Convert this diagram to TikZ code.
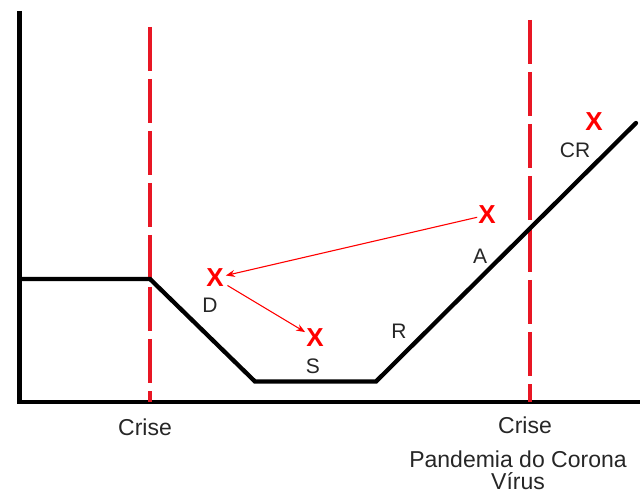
\documentclass[tikz,border=0pt]{standalone}
\usepackage{fontspec}
\setmainfont{Liberation Sans}
\usetikzlibrary{arrows.meta}
\definecolor{dashred}{RGB}{232,22,36}
\definecolor{xred}{RGB}{255,0,0}
\tikzset{
  axisline/.style={line width=4.5pt},
  curveline/.style={line width=4.3pt, line cap=round},
  crisisline/.style={dashred, line width=4.5pt, dash pattern=on 44pt off 8pt},
  xmark/.style={text=xred, font=\fontsize{26}{28}\selectfont\bfseries, inner sep=1pt},
  lbl/.style={font=\fontsize{21}{23}\selectfont, text=black!85, inner sep=0pt},
  bottomlbl/.style={font=\fontsize{23}{25}\selectfont, text=black!85, inner sep=0pt},
  redarrow/.style={xred, line width=1.1pt, -{Stealth[length=9pt,width=7pt]}}
}
\begin{document}
\begin{tikzpicture}[x=1pt,y=-1pt]
\useasboundingbox (0,0) rectangle (640,494);
% axes
\coordinate (ytop) at (19.5,11);
\coordinate (origin) at (19.5,404);
\coordinate (xend) at (640,402);
\draw[axisline] (ytop) -- (origin);
\draw[axisline] (17,402) -- (xend);
% crisis lines
\coordinate (c1top) at (150,27);
\coordinate (c1bot) at (150,402);
\coordinate (c2top) at (530,20);
\coordinate (c2bot) at (530,402);
\draw[crisisline] (c1top) -- (c1bot);
\draw[crisisline] (c2top) -- (c2bot);
% curve
\coordinate (p0) at (19.5,279);
\coordinate (p1) at (150,279);
\coordinate (p2) at (255,381.5);
\coordinate (p3) at (376,381.5);
\coordinate (p4) at (636,123);
\draw[curveline] (p0) -- (p1) -- (p2) -- (p3) -- (p4);
% X marks
\node[xmark] (xD) at (215,278) {X};
\node[xmark] (xS) at (315,338) {X};
\node[xmark] (xA) at (487,215) {X};
\node[xmark] (xCR) at (594,122) {X};
% labels
\node[lbl] (lD) at (210,305) {D};
\node[lbl] (lS) at (313,366) {S};
\node[lbl] (lR) at (399,331) {R};
\node[lbl] (lA) at (480,256) {A};
\node[lbl] (lCR) at (575,150) {CR};
% arrows
\draw[redarrow, shorten >=1pt] (xA) -- (xD);
\draw[redarrow, shorten <=3pt] (xD) -- (xS);
% bottom labels
\node[bottomlbl] (cr1) at (145,427) {Crise};
\node[bottomlbl] (cr2) at (525,425) {Crise};
\node[bottomlbl] (pand) at (518,459) {Pandemia do Corona};
\node[bottomlbl] (virus) at (518,481) {Vírus};
\end{tikzpicture}
\end{document}
